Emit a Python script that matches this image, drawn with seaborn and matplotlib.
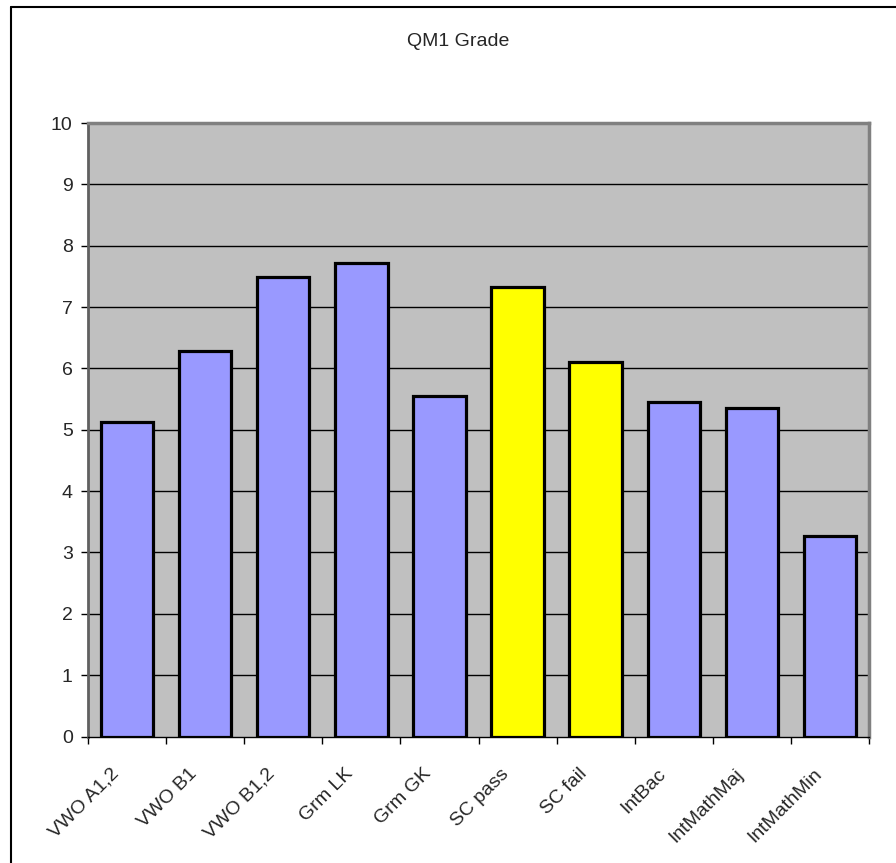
import matplotlib
matplotlib.use("Agg")
import matplotlib.pyplot as plt
from matplotlib.lines import Line2D
from matplotlib.transforms import ScaledTranslation
import seaborn as sns
import pandas as pd
import numpy as np

categories = ["VWO A1,2", "VWO B1", "VWO B1,2", "Grm LK", "Grm GK",
              "SC pass", "SC fail", "IntBac", "IntMathMaj", "IntMathMin"]
values = [5.13, 6.28, 7.49, 7.72, 5.55, 7.32, 6.11, 5.45, 5.35, 3.27]
bar_colors = ["#9999FF", "#9999FF", "#9999FF", "#9999FF", "#9999FF",
              "#FFFF00", "#FFFF00", "#9999FF", "#9999FF", "#9999FF"]
title = "QM1 Grade"
y_ticks = [0, 1, 2, 3, 4, 5, 6, 7, 8, 9, 10]

sns.set_theme(style="white")
plt.rcParams["font.family"] = ["Liberation Sans", "DejaVu Sans"]

FS = 14
W, H = 896, 863
fig = plt.figure(figsize=(W / 100, H / 100), dpi=100)
ax = fig.add_axes([88 / W, 1 - 736.5 / H, (869 - 88) / W, (736.5 - 123) / H])
ax.set_facecolor("#C0C0C0")

df = pd.DataFrame({"cat": categories, "val": values})
sns.barplot(data=df, x="cat", y="val", hue="cat", palette=bar_colors,
            legend=False, width=0.67, edgecolor="black", linewidth=2.3,
            saturation=1, ax=ax, zorder=3)

ax.set_ylim(0, 10)
ax.set_xlim(-0.5, len(categories) - 0.5)
ax.set_yticks(y_ticks)
ax.set_yticklabels([str(t) for t in y_ticks], fontsize=FS)
for t in y_ticks[1:-1]:
    ax.axhline(t, color="black", linewidth=1, zorder=1)

ax.set_xticks(range(len(categories)))
ax.set_xticklabels(categories, rotation=45, ha="right", va="center",
                   rotation_mode="anchor", fontsize=FS)
ax.tick_params(axis="x", which="major", length=0, pad=25)
offset = ScaledTranslation(-11 / 100, 0, fig.dpi_scale_trans)
for lab in ax.get_xticklabels():
    lab.set_transform(lab.get_transform() + offset)
ax.set_xticks(np.arange(-0.5, len(categories), 1.0), minor=True)
ax.tick_params(axis="x", which="minor", length=5, width=1, color="black",
               direction="out", bottom=True)
ax.tick_params(axis="y", length=5, width=1, color="black", direction="out",
               left=True, pad=6)
ax.set_xlabel("")
ax.set_ylabel("")

for side in ["top", "right"]:
    ax.spines[side].set_visible(True)
    ax.spines[side].set_color("#808080")
    ax.spines[side].set_linewidth(2.5)
ax.spines["left"].set_color("#606060")
ax.spines["left"].set_linewidth(2)
ax.spines["bottom"].set_color("black")
ax.spines["bottom"].set_linewidth(1)

fig.text(458 / W, 1 - 41 / H, title, ha="center", va="center", fontsize=FS)

# outer chart frame (left and top edges visible)
fig.add_artist(Line2D([11 / W, 11 / W], [0, 1 - 7 / H], color="black",
                      linewidth=1.5, transform=fig.transFigure))
fig.add_artist(Line2D([11 / W, 1], [1 - 7 / H, 1 - 7 / H], color="black",
                      linewidth=1.5, transform=fig.transFigure))

fig.savefig("out.png", dpi=100, facecolor="white")
